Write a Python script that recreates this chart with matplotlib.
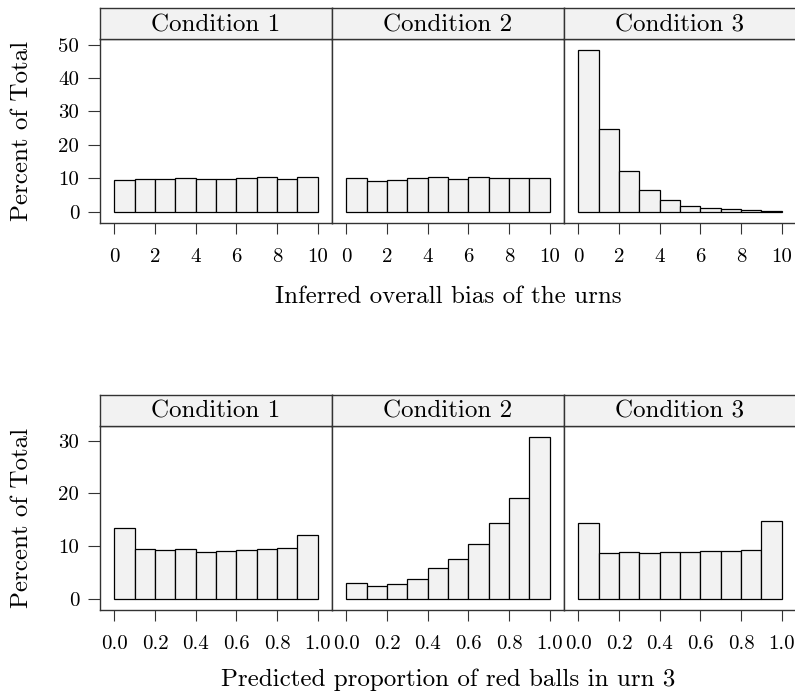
import numpy as np
import matplotlib
matplotlib.use('Agg')
from matplotlib import pyplot as plt

# bin edges
bias_edges = [0, 1, 2, 3, 4, 5, 6, 7, 8, 9, 10]
prop_edges = [0.0, 0.1, 0.2, 0.3, 0.4, 0.5, 0.6, 0.7, 0.8, 0.9, 1.0]

conditions = ['Condition 1', 'Condition 2', 'Condition 3']

# percent of total, inferred overall bias
bias_c1 = [9.6, 9.9, 9.9, 10.1, 9.8, 9.8, 10.1, 10.3, 9.9, 10.4]
bias_c2 = [10.0, 9.2, 9.6, 10.1, 10.3, 9.7, 10.3, 10.2, 10.1, 10.1]
bias_c3 = [48.3, 24.9, 12.2, 6.4, 3.4, 1.8, 1.2, 0.8, 0.5, 0.3]

# percent of total, predicted proportion of red balls
prop_c1 = [13.4, 9.5, 9.2, 9.4, 8.8, 9.05, 9.2, 9.4, 9.7, 12.15]
prop_c2 = [2.97, 2.34, 2.8, 3.8, 5.9, 7.5, 10.4, 14.4, 19.2, 30.7]
prop_c3 = [14.3, 8.6, 8.9, 8.6, 8.8, 8.86, 9.0, 9.0, 9.2, 14.75]

bias_ticks = [0, 2, 4, 6, 8, 10]
prop_ticks = [0.0, 0.2, 0.4, 0.6, 0.8, 1.0]

plt.rcParams['font.family'] = ['cmr10', 'DejaVu Serif']
plt.rcParams['axes.formatter.use_mathtext'] = True

W, H = 795, 696
fig = plt.figure(figsize=(W / 100, H / 100), dpi=100)

edge = '#333333'
xs = [100, 332, 564, 796]


def row(top_px, bot_px, strip_top_px, edges, series, xticks, xfmt, xlim, ylim, yticks, xlabel, xlabel_y):
    for i in range(3):
        x0 = xs[i] / W
        w = (xs[i + 1] - xs[i]) / W
        ax = fig.add_axes([x0, 1 - bot_px / H, w, (bot_px - top_px) / H])
        ax.bar(edges[:-1], series[i], width=np.diff(edges), align='edge',
               color='#f2f2f2', edgecolor='black', linewidth=0.9)
        ax.set_xlim(*xlim)
        ax.set_ylim(*ylim)
        ax.set_xticks(xticks)
        ax.set_xticklabels([xfmt % t for t in xticks])
        ax.tick_params(axis='x', direction='out', length=8, width=0.8, color=edge,
                       pad=10, labelsize=15, top=False)
        if i == 0:
            ax.set_yticks(yticks)
            ax.set_yticklabels([str(t) for t in yticks])
            ax.tick_params(axis='y', direction='out', length=8.5, width=0.8, color=edge,
                           pad=6.5, labelsize=15, right=False)
        else:
            ax.set_yticks([])
        for s in ax.spines.values():
            s.set_color(edge)
            s.set_linewidth(1.0)
        # strip
        sax = fig.add_axes([x0, 1 - top_px / H, w, (top_px - strip_top_px) / H])
        sax.set_facecolor('#f2f2f2')
        sax.set_xticks([])
        sax.set_yticks([])
        for s in sax.spines.values():
            s.set_color(edge)
            s.set_linewidth(1.0)
        sax.text(0.5, 0.45, conditions[i], ha='center', va='center',
                 fontsize=18, transform=sax.transAxes)
    fig.text((xs[0] + xs[3]) / 2 / W, 1 - xlabel_y / H, xlabel, ha='center',
             va='center', fontsize=18)
    fig.text(22 / W, 1 - (top_px + bot_px) / 2 / H, 'Percent of Total', ha='center',
             va='center', rotation=90, fontsize=18)


row(39, 223, 8, bias_edges, [bias_c1, bias_c2, bias_c3], bias_ticks, '%d',
    (-0.7, 10.7), (-3.38, 51.7), [0, 10, 20, 30, 40, 50],
    'Inferred overall bias of the urns', 297)

row(425.7, 610, 395, prop_edges, [prop_c1, prop_c2, prop_c3], prop_ticks, '%.1f',
    (-0.07, 1.07), (-2.15, 32.85), [0, 10, 20, 30],
    'Predicted proportion of red balls in urn 3', 680)

fig.savefig('out.png', dpi=100)
